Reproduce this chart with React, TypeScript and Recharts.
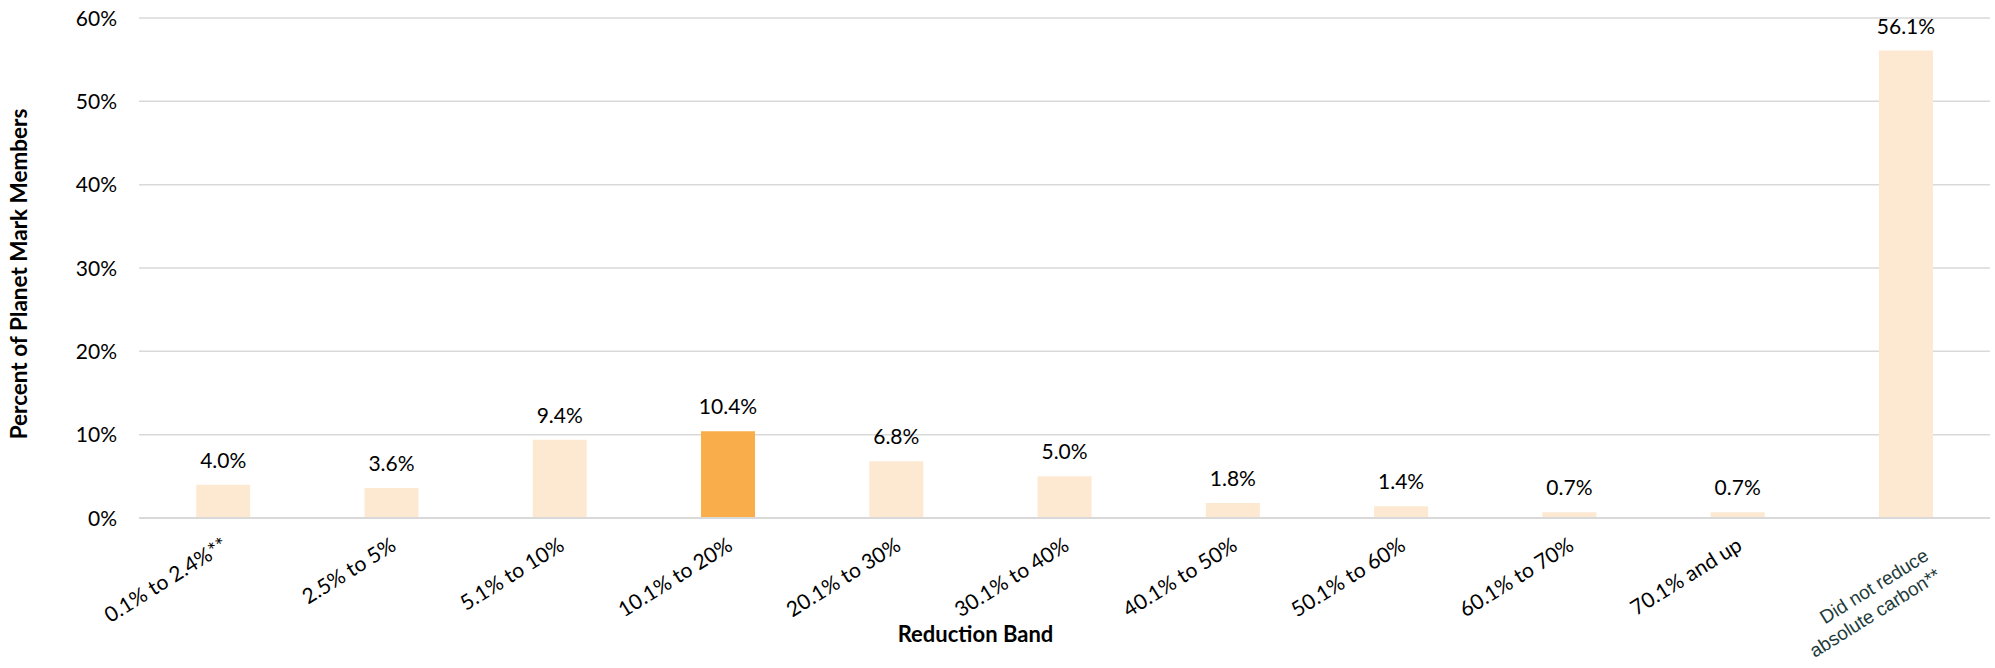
import React from 'react';
import { BarChart, Bar, XAxis, YAxis, CartesianGrid, Cell, LabelList, Label } from 'recharts';

// Share of members in each absolute carbon reduction band (%)
const bands: string[] = [
  '0.1% to 2.4%**',
  '2.5% to 5%',
  '5.1% to 10%',
  '10.1% to 20%',
  '20.1% to 30%',
  '30.1% to 40%',
  '40.1% to 50%',
  '50.1% to 60%',
  '60.1% to 70%',
  '70.1% and up',
  'Did not reduce\nabsolute carbon**',
];
const shares: number[] = [4.0, 3.6, 9.4, 10.4, 6.8, 5.0, 1.8, 1.4, 0.7, 0.7, 56.1];
const yTicks: number[] = [0, 10, 20, 30, 40, 50, 60];
const highlightBand = '10.1% to 20%';

const data = bands.map((band, i) => ({ band, share: shares[i] }));

const FONT = 'Lato, "Open Sans", sans-serif';
const LIGHT = '#FDE9D2';
const HIGHLIGHT = '#F9AE4B';
const GRID = '#D9D9D9';
const ANGLE = -32;

const YTick = (props: any) => {
  const { x, y, payload } = props;
  return (
    <text x={x} y={y} dy="0.36em" textAnchor="end" fill="#000" fontFamily={FONT} fontSize={21}>
      {`${payload.value}%`}
    </text>
  );
};

const XTick = (props: any) => {
  const { x, y, payload } = props;
  const lines: string[] = String(payload.value).split('\n');
  if (lines.length > 1) {
    const ax = x + 24;
    const ay = y + 41;
    return (
      <g transform={`rotate(${ANGLE}, ${ax}, ${ay})`}>
        {lines.map((ln, i) => (
          <text
            key={i}
            x={ax}
            y={ay + i * 23}
            textAnchor="end"
            fill="#1E3B3A"
            fontFamily='"Liberation Sans", Arial, sans-serif'
            fontSize={19}
          >
            {ln}
          </text>
        ))}
      </g>
    );
  }
  const ax = x + 6;
  const ay = y + 31;
  return (
    <text
      x={ax}
      y={ay}
      transform={`rotate(${ANGLE}, ${ax}, ${ay})`}
      textAnchor="end"
      fill="#000"
      fontFamily={FONT}
      fontSize={21}
    >
      {payload.value}
    </text>
  );
};

const YTitle = (props: any) => {
  const { viewBox } = props;
  const cx = viewBox.x + 18;
  const cy = viewBox.y + viewBox.height / 2 + 6;
  return (
    <text
      x={cx}
      y={cy}
      transform={`rotate(-90, ${cx}, ${cy})`}
      textAnchor="middle"
      dominantBaseline="central"
      fill="#000"
      fontFamily={FONT}
      fontWeight={700}
      fontSize={22.5}
    >
      Percent of Planet Mark Members
    </text>
  );
};

export default function App() {
  return (
    <div style={{ position: 'absolute', left: 0, top: 0, width: 1995, height: 668, background: '#fff' }}>
      <BarChart
        width={1995}
        height={668}
        data={data}
        margin={{ top: 18, right: 5, bottom: 0, left: 0 }}
        barCategoryGap="34%"
      >
        <CartesianGrid vertical={false} stroke={GRID} strokeWidth={1.5} />
        <XAxis
          dataKey="band"
          interval={0}
          height={150}
          tickLine={false}
          tickSize={0}
          tickMargin={0}
          axisLine={{ stroke: GRID, strokeWidth: 2 }}
          tick={<XTick />}
        >
          <Label
            value="Reduction Band"
            position="insideBottom"
            offset={26}
            dx={-89}
            fill="#000"
            style={{ fontFamily: FONT, fontWeight: 700, fontSize: 22 }}
          />
        </XAxis>
        <YAxis
          width={139}
          domain={[0, 60]}
          ticks={yTicks}
          interval={0}
          axisLine={false}
          tickLine={false}
          tickSize={0}
          tickMargin={22}
          tick={<YTick />}
        >
          <Label content={<YTitle />} />
        </YAxis>
        <Bar dataKey="share" isAnimationActive={false}>
          {data.map((d) => (
            <Cell key={d.band} fill={d.band === highlightBand ? HIGHLIGHT : LIGHT} />
          ))}
          <LabelList
            dataKey="share"
            position="top"
            offset={17}
            formatter={(v: any) => `${Number(v).toFixed(1)}%`}
            style={{ fontFamily: FONT, fontSize: 21, fill: '#000' }}
          />
        </Bar>
      </BarChart>
    </div>
  );
}
